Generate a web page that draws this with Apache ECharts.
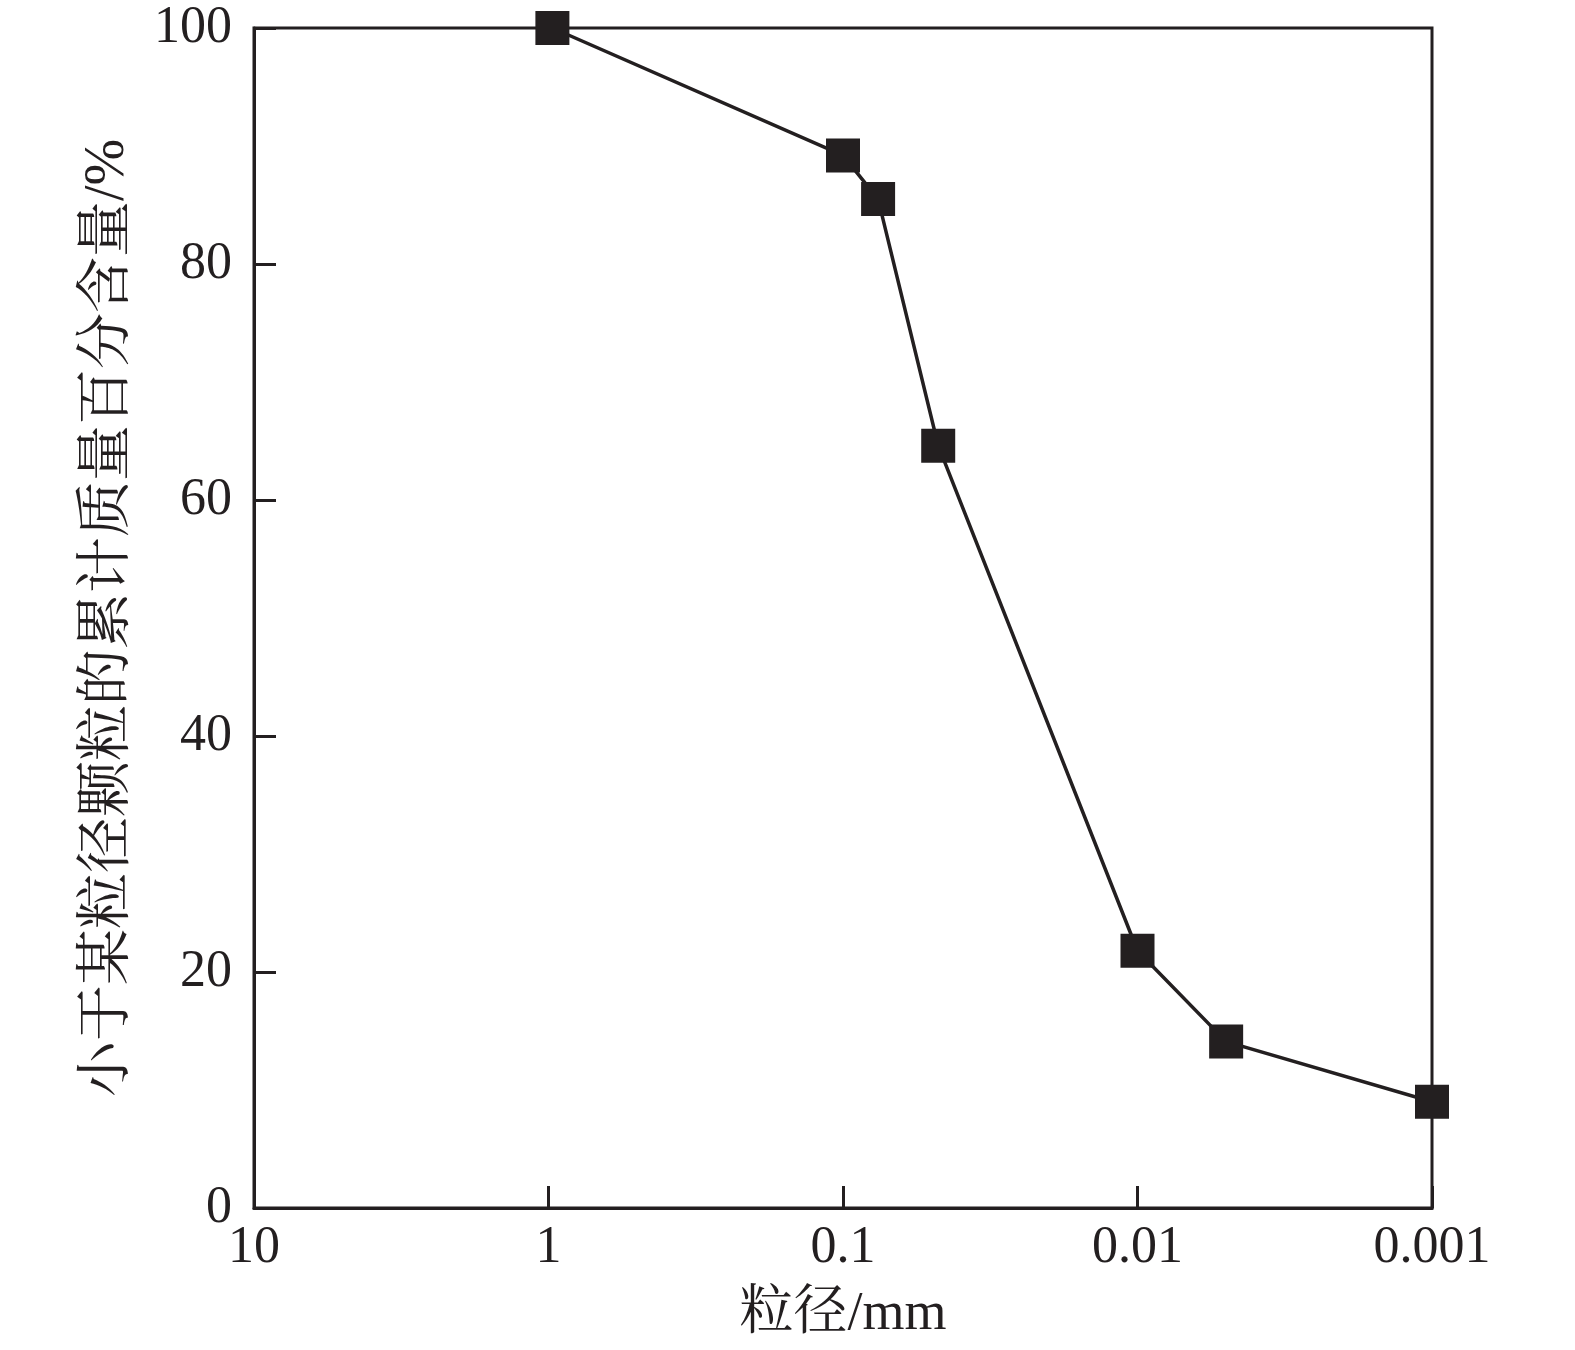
<!DOCTYPE html>
<html>
<head>
<meta charset="utf-8">
<title>粒径分布</title>
<script src="https://cdn.jsdelivr.net/npm/echarts@6/dist/echarts.min.js"></script>
<style>
  html, body { margin: 0; padding: 0; background: #fff; }
  #main { width: 1575px; height: 1350px; }
</style>
</head>
<body>
<div id="main"></div>
<script>
// 粒径 (mm) 与 小于某粒径颗粒的累计质量百分含量 (%)
var sizes = [0.97, 0.1, 0.076, 0.0475, 0.01, 0.005, 0.001];
var percents = [100, 89.2, 85.5, 64.6, 21.8, 14.1, 9.0];
var xTicks = ['10', '1', '0.1', '0.01', '0.001'];

var ink = '#231f20';
var font = "'Liberation Serif', 'Noto Serif CJK SC', 'Noto Sans CJK SC', serif";

var points = [];
for (var i = 0; i < sizes.length; i++) {
    points.push([sizes[i], percents[i]]);
}

var myChart = echarts.init(document.getElementById('main'));
myChart.setOption({
    animation: false,
    backgroundColor: '#fff',
    grid: {
        left: 254, right: 143, top: 28, bottom: 142,
        show: true, borderColor: ink, borderWidth: 3,
        containLabel: false
    },
    xAxis: {
        type: 'log',
        logBase: 10,
        min: 0.001,
        max: 10,
        inverse: true,
        name: '粒径/mm',
        nameLocation: 'middle',
        nameGap: 80,
        nameTextStyle: { color: ink, fontSize: 54, fontFamily: font },
        axisLine: { show: true, lineStyle: { color: ink, width: 3 } },
        axisTick: { show: true, inside: true, length: 22, lineStyle: { color: ink, width: 3 } },
        minorTick: { show: false },
        splitLine: { show: false },
        axisLabel: {
            color: ink, fontSize: 52, fontFamily: font, margin: 14,
            formatter: function (v) {
                var k = Math.round(Math.log10(v));
                return xTicks[1 - k];
            }
        }
    },
    yAxis: {
        type: 'value',
        min: 0,
        max: 100,
        interval: 20,
        name: '小于某粒径颗粒的累计质量百分含量/%',
        nameLocation: 'middle',
        nameRotate: 90,
        nameGap: 118,
        nameTextStyle: { color: ink, fontSize: 56, fontFamily: font },
        axisLine: { show: true, lineStyle: { color: ink, width: 3 } },
        axisTick: { show: true, inside: true, length: 22, lineStyle: { color: ink, width: 3 } },
        splitLine: { show: false },
        axisLabel: { color: ink, fontSize: 52, fontFamily: font, margin: 22 }
    },
    series: [{
        type: 'line',
        data: points,
        symbol: 'rect',
        symbolSize: 34,
        showAllSymbol: true,
        clip: false,
        lineStyle: { color: ink, width: 3.5 },
        itemStyle: { color: ink, borderWidth: 0 }
    }]
});
</script>
</body>
</html>
